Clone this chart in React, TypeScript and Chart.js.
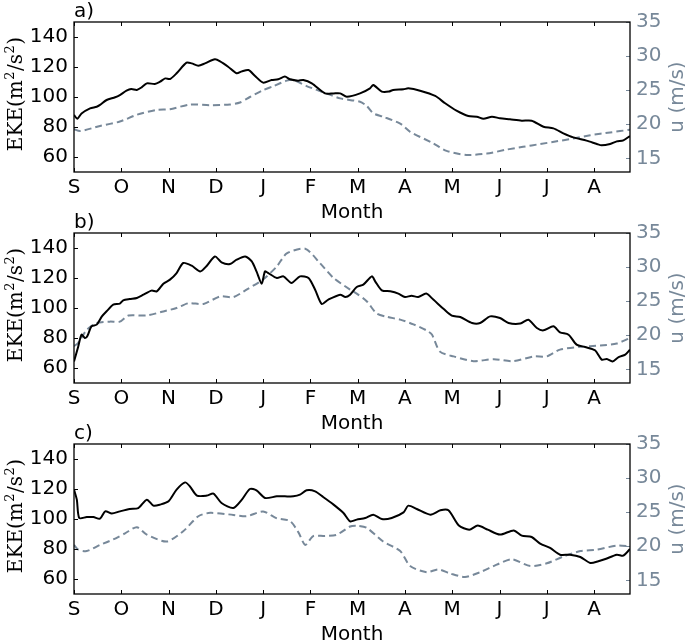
import React, { useEffect, useRef } from "react";
import { Chart, registerables } from "chart.js";

Chart.register(...registerables);

const months = ["S", "O", "N", "D", "J", "F", "M", "A", "M", "J", "J", "A"];
const ekeTicks = [60, 80, 100, 120, 140];
const uTicks = [15, 20, 25, 30, 35];
const panelLabels = ["a)", "b)", "c)"];
const xLabel = "Month";
const uLabel = "u (m/s)";

// [month index, EKE (m^2/s^2)]
const ekeA = [[0,88],[0.07,85.5],[0.16,89],[0.34,92.4],[0.48,93.5],[0.55,94.7],[0.69,98],[0.87,99.8],[0.97,101.3],[1.11,104.2],[1.21,105.3],[1.33,104.7],[1.43,106.4],[1.54,109.1],[1.71,108.7],[1.82,110.2],[1.93,112.4],[2.03,112],[2.17,115.8],[2.38,122.9],[2.49,122.4],[2.63,120.9],[2.77,122.4],[2.98,125.1],[3.09,123.8],[3.26,120.2],[3.44,115.8],[3.55,117.1],[3.69,118],[3.83,114],[4.0,109.6],[4.18,111.3],[4.32,111.8],[4.46,113.6],[4.57,111.8],[4.74,110.9],[4.85,111.3],[5.03,109.1],[5.31,102.4],[5.49,102.4],[5.63,102.4],[5.77,100.2],[6.05,102.4],[6.26,105.8],[6.33,108],[6.51,103.6],[6.66,103.6],[6.75,104.7],[6.97,105.1],[7.07,105.8],[7.32,104.2],[7.64,100.7],[7.85,95.8],[8.09,90.9],[8.34,87.3],[8.52,86.9],[8.66,85.5],[8.84,86.9],[9.01,85.8],[9.22,85.1],[9.47,84.2],[9.68,84.2],[9.93,80.2],[10.14,79.1],[10.35,75.8],[10.56,73.1],[10.84,70.9],[11.06,68.7],[11.16,67.8],[11.34,68.7],[11.48,70.4],[11.62,71.1],[11.76,74]];
// [month index, u (m/s)]
const uA = [[0,19.26],[0.13,19.0],[0.55,19.75],[0.97,20.4],[1.33,21.4],[1.75,22.1],[2.03,22.2],[2.45,22.9],[2.87,22.8],[3.3,22.9],[3.51,23.2],[3.72,24.0],[4.0,25.0],[4.22,25.6],[4.5,26.4],[4.64,26.5],[4.92,25.6],[5.35,24.5],[5.63,23.8],[6.05,23.3],[6.19,22.7],[6.33,21.6],[6.54,21.1],[6.9,20.1],[7.11,18.9],[7.6,17.2],[7.88,16.1],[8.3,15.5],[8.73,15.7],[9.16,16.3],[9.5,16.7],[9.86,17.1],[10.21,17.5],[10.56,17.9],[10.92,18.4],[11.34,18.8],[11.76,19.2]];

const ekeB = [[0,64.4],[0.09,74.4],[0.16,82.2],[0.23,80],[0.28,81.1],[0.37,87.8],[0.48,88.9],[0.59,94.4],[0.69,97.8],[0.83,102.2],[0.97,102.9],[1.04,105.1],[1.18,106],[1.33,106.7],[1.47,108.9],[1.64,111.6],[1.75,111.1],[1.89,116.2],[2.03,118.9],[2.17,123.3],[2.31,130],[2.49,128.2],[2.67,124.4],[2.81,128.2],[2.98,134.4],[3.12,130.4],[3.3,129.3],[3.44,132.2],[3.62,134.4],[3.76,131.1],[3.86,124.4],[3.97,116.2],[4.04,124.4],[4.11,123.3],[4.29,120],[4.43,121.1],[4.6,116.7],[4.78,121.1],[4.96,120],[5.1,112.2],[5.24,102.7],[5.38,105.6],[5.63,108.9],[5.74,107.3],[5.84,108.9],[5.98,114],[6.12,115.6],[6.3,121.1],[6.37,117.8],[6.51,111.8],[6.69,111.1],[6.86,109.6],[7.0,107.3],[7.14,108.2],[7.28,107.3],[7.45,109.6],[7.6,105.6],[7.82,99.3],[7.99,94.9],[8.17,94],[8.42,90],[8.59,90],[8.8,94.4],[9.01,93.3],[9.19,90],[9.44,89.6],[9.61,92.2],[9.79,86.7],[9.93,85.1],[10.14,87.8],[10.28,83.8],[10.46,82.2],[10.63,75.6],[10.81,74],[11.02,71.8],[11.16,65.6],[11.27,66],[11.39,64.4],[11.52,67.3],[11.66,68.9],[11.76,72.2]];
const uB = [[0,18.4],[0.09,18.9],[0.27,20.8],[0.48,21.8],[0.76,22.0],[0.97,22.0],[1.15,22.9],[1.54,22.9],[1.89,23.5],[2.17,24.0],[2.42,24.7],[2.74,24.6],[3.09,25.7],[3.37,25.6],[3.65,26.7],[4.0,28.2],[4.29,30.1],[4.5,32.0],[4.89,32.7],[5.2,30.6],[5.49,28.4],[5.84,26.7],[5.98,26.1],[6.19,25.0],[6.4,23.2],[6.62,22.7],[6.9,22.3],[7.18,21.6],[7.46,20.7],[7.57,20.1],[7.74,17.6],[8.03,16.9],[8.45,16.2],[8.88,16.5],[9.29,16.2],[9.72,16.9],[10.0,16.9],[10.28,17.9],[10.7,18.3],[11.13,18.5],[11.48,18.8],[11.76,19.6]];

const ekeC = [[0,119.6],[0.06,112.9],[0.11,100.7],[0.27,101.3],[0.41,101.3],[0.55,100.2],[0.66,105.1],[0.8,103.6],[0.97,105.1],[1.18,106.7],[1.36,107.3],[1.54,112.9],[1.68,108.9],[1.82,109.6],[2.0,111.8],[2.17,119.6],[2.35,124.4],[2.45,121.8],[2.6,115.6],[2.81,115.6],[2.95,116.9],[3.12,110.7],[3.37,107.3],[3.55,112.9],[3.72,120],[3.86,119.1],[4.04,114],[4.29,115.1],[4.46,115.1],[4.64,115.1],[4.78,116.2],[4.92,119.1],[5.1,118.4],[5.27,114.7],[5.49,109.6],[5.7,104],[5.84,98.4],[5.98,99.6],[6.16,100.7],[6.33,102.9],[6.51,100],[6.72,100.7],[6.97,104.4],[7.07,108.9],[7.25,106.7],[7.54,102.9],[7.75,105.8],[7.92,105.8],[8.14,95.6],[8.36,92.9],[8.54,95.6],[8.75,92.9],[9.01,89.6],[9.3,92.4],[9.47,88.9],[9.68,88],[9.86,83.6],[10.07,80.7],[10.28,76.2],[10.49,76.2],[10.71,74.7],[10.92,70.7],[11.09,71.8],[11.24,73.3],[11.48,76.2],[11.62,75.6],[11.76,80]];
const uC = [[0,20.2],[0.09,19.5],[0.27,19.3],[0.55,20.2],[0.83,21.0],[1.08,21.9],[1.33,22.8],[1.54,21.7],[1.96,20.7],[2.31,22.2],[2.63,24.4],[2.88,24.9],[3.37,24.6],[3.65,24.4],[4.0,25.1],[4.29,24.1],[4.57,23.7],[4.75,22.0],[4.89,20.2],[5.06,21.5],[5.31,21.5],[5.56,21.7],[5.84,22.9],[5.98,23.0],[6.19,22.7],[6.54,20.7],[6.9,19.3],[7.11,17.1],[7.46,16.2],[7.71,16.6],[7.96,16.0],[8.27,15.5],[8.59,16.2],[8.94,17.3],[9.26,18.1],[9.65,17.1],[10.0,17.5],[10.35,18.5],[10.71,19.3],[11.06,19.5],[11.48,20.1],[11.76,20.0]];

const X_MAX = 11.76;
const EKE_MIN = 50, EKE_MAX = 150;
const U_MIN = 13, U_MAX = 35;
const GRAY = "#778899";
const SANS = '"DejaVu Sans", sans-serif';
const SERIF = '"DejaVu Serif", serif';

const PLOT_TOP = 22;
const PLOT_BOTTOM = 172;
const PLOT_LEFT = 74;
const PLOT_RIGHT = 630;
const W = 685;

function makeDecor(label: string) {
  return {
    id: "decor" + label,
    afterDraw(chart: any) {
      const { ctx, chartArea, scales } = chart;
      const { left, right, top, bottom } = chartArea;
      ctx.save();
      ctx.lineWidth = 1;
      ctx.strokeStyle = "#000";
      ctx.beginPath();
      months.forEach((_, i) => {
        const x = Math.round(scales.x.getPixelForValue(i)) + 0.5;
        ctx.moveTo(x, bottom);
        ctx.lineTo(x, bottom - 4);
        ctx.moveTo(x, top);
        ctx.lineTo(x, top + 4);
      });
      ekeTicks.forEach((v) => {
        const y = Math.round(scales.y.getPixelForValue(v)) + 0.5;
        ctx.moveTo(left, y);
        ctx.lineTo(left + 4, y);
      });
      ctx.stroke();
      ctx.strokeStyle = GRAY;
      ctx.beginPath();
      uTicks.forEach((v) => {
        const y = Math.round(scales.y1.getPixelForValue(v)) + 0.5;
        ctx.moveTo(right, y);
        ctx.lineTo(right - 4, y);
      });
      ctx.stroke();
      // frame
      ctx.strokeStyle = "#000";
      ctx.lineWidth = 1.3;
      ctx.strokeRect(left, top, right - left, bottom - top);

      // panel label
      ctx.fillStyle = "#000";
      ctx.font = `20px ${SANS}`;
      ctx.textAlign = "left";
      ctx.textBaseline = "alphabetic";
      ctx.fillText(label, left, top - 5.5);

      // x title
      ctx.textAlign = "center";
      ctx.fillText(xLabel, (left + right) / 2, bottom + 46);

      // right title
      ctx.save();
      ctx.translate(683, (top + bottom) / 2);
      ctx.rotate(-Math.PI / 2);
      ctx.fillStyle = GRAY;
      ctx.textAlign = "center";
      ctx.fillText(uLabel, 0, 0);
      ctx.restore();

      // left title with superscripts
      const parts: [string, boolean][] = [["EKE(m", false], ["2", true], ["/s", false], ["2", true], [")", false]];
      const mainFont = `20px ${SERIF}`;
      const supFont = `13px ${SERIF}`;
      let total = 0;
      const widths = parts.map(([t, sup]) => {
        ctx.font = sup ? supFont : mainFont;
        const w = ctx.measureText(t).width + (sup ? 1 : 0);
        total += w;
        return w;
      });
      ctx.save();
      ctx.translate(21.5, (top + bottom) / 2 - 3);
      ctx.rotate(-Math.PI / 2);
      ctx.textAlign = "left";
      ctx.fillStyle = "#000";
      let cx = -total / 2;
      parts.forEach(([t, sup], i) => {
        ctx.font = sup ? supFont : mainFont;
        ctx.fillText(t, cx + (sup ? 0.5 : 0), sup ? -8 : 0);
        cx += widths[i];
      });
      ctx.restore();
      ctx.restore();
    },
  };
}

function Panel({ top, height, label, eke, u }: { top: number; height: number; label: string; eke: number[][]; u: number[][] }) {
  const ref = useRef<HTMLCanvasElement>(null);
  useEffect(() => {
    const chart = new Chart(ref.current as HTMLCanvasElement, {
      type: "line",
      data: {
        datasets: [
          {
            data: eke.map(([x, y]) => ({ x, y })),
            yAxisID: "y",
            borderColor: "#000",
            borderWidth: 2,
            pointRadius: 0,
            tension: 0.25,
            fill: false,
          },
          {
            data: u.map(([x, y]) => ({ x, y })),
            yAxisID: "y1",
            borderColor: GRAY,
            borderWidth: 2,
            borderDash: [7, 4],
            pointRadius: 0,
            tension: 0.25,
            fill: false,
          },
        ],
      },
      options: {
        animation: false,
        responsive: false,
        maintainAspectRatio: false,
        events: [],
        layout: { padding: { top: PLOT_TOP, left: 0, right: 0, bottom: 0 } },
        plugins: { legend: { display: false }, tooltip: { enabled: false }, title: { display: false } },
        scales: {
          x: {
            type: "linear",
            min: 0,
            max: X_MAX,
            afterBuildTicks: (s: any) => {
              s.ticks = months.map((_, i) => ({ value: i }));
            },
            afterFit: (s: any) => {
              s.height = height - PLOT_BOTTOM;
            },
            grid: { display: false, drawTicks: false },
            border: { display: false },
            ticks: {
              autoSkip: false,
              maxRotation: 0,
              padding: 4,
              color: "#000",
              font: { family: SANS, size: 20 },
              callback: (v: any) => months[Math.round(Number(v))],
            },
          },
          y: {
            type: "linear",
            position: "left",
            min: EKE_MIN,
            max: EKE_MAX,
            afterBuildTicks: (s: any) => {
              s.ticks = ekeTicks.map((v) => ({ value: v }));
            },
            afterFit: (s: any) => {
              s.width = PLOT_LEFT;
            },
            grid: { display: false, drawTicks: false },
            border: { display: false },
            ticks: { padding: 6, color: "#000", font: { family: SANS, size: 20 } },
          },
          y1: {
            type: "linear",
            position: "right",
            min: U_MIN,
            max: U_MAX,
            afterBuildTicks: (s: any) => {
              s.ticks = uTicks.map((v) => ({ value: v }));
            },
            afterFit: (s: any) => {
              s.width = W - PLOT_RIGHT;
            },
            grid: { display: false, drawTicks: false },
            border: { display: false },
            ticks: { padding: 6, color: GRAY, font: { family: SANS, size: 20 } },
          },
        },
      } as any,
      plugins: [makeDecor(label)],
    });
    return () => chart.destroy();
  }, []);
  return (
    <canvas
      ref={ref}
      width={W}
      height={height}
      style={{ position: "absolute", left: 0, top, width: W, height, display: "block" }}
    />
  );
}

export default function App() {
  return (
    <div style={{ position: "absolute", left: 0, top: 0, width: W, height: 641, background: "#fff" }}>
      <Panel top={0} height={230} label={panelLabels[0]} eke={ekeA} u={uA} />
      <Panel top={211} height={230} label={panelLabels[1]} eke={ekeB} u={uB} />
      <Panel top={422} height={219} label={panelLabels[2]} eke={ekeC} u={uC} />
    </div>
  );
}
